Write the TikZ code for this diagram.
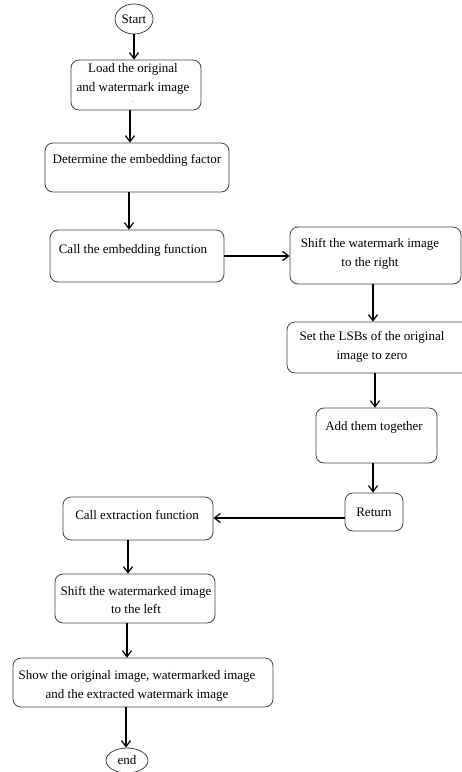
\documentclass[tikz,border=0pt]{standalone}
\usepackage{fontspec}
\setmainfont{Liberation Serif}
\usetikzlibrary{arrows.meta,shapes.geometric}
\begin{document}
\begin{tikzpicture}[x=1pt,y=-1pt,
  box/.style={draw=black!75, line width=0.8pt, rounded corners=8pt, inner sep=0pt},
  term/.style={draw=black!75, line width=0.8pt, ellipse, inner sep=0pt, font=\fontsize{13}{18.5}\selectfont},
  txt/.style={font=\fontsize{13}{18.5}\selectfont, align=center, inner sep=0pt},
  arr/.style={line width=1.6pt, -{Straight Barb[length=6pt,width=9pt,line width=1.2pt]}},
]
\useasboundingbox (0,0) rectangle (462,772);
% terminals
\node[term, minimum width=38pt, minimum height=30pt] (start) at (134,19) {Start};
\node[term, minimum width=42pt, minimum height=25pt] (end) at (127,760.5) {end};
% boxes
\node[box, minimum width=130pt, minimum height=50pt] (b1) at (136,85) {};
\node[txt] (t1) at (133,79) {Load the original\\and watermark image};
\node[txt, font=\fontsize{6}{6}\selectfont] (dot1) at (133,102) {.};
\node[box, minimum width=184pt, minimum height=49pt] (b2) at (137,167.5) {};
\node[txt] (t2) at (137,160) {Determine the embedding factor};
\node[box, minimum width=174pt, minimum height=52pt] (b3) at (137,256) {};
\node[txt] (t3) at (133,250) {Call the embedding function};
\node[box, minimum width=171pt, minimum height=57pt] (b4) at (375.5,255.5) {};
\node[txt] (t4) at (370,254) {Shift the watermark image\\to the right};
\node[box, minimum width=183pt, minimum height=51pt] (b5) at (378.5,347.5) {};
\node[txt] (t5) at (372,347) {Set the LSBs of the original\\image to zero};
\node[box, minimum width=121pt, minimum height=55pt] (b6) at (376.5,435.5) {};
\node[txt] (t6) at (374,427) {Add them together};
\node[box, minimum width=58pt, minimum height=38pt] (b7) at (374,512) {};
\node[txt] (t7) at (374,512) {Return};
\node[box, minimum width=150pt, minimum height=43pt] (b8) at (138,518.5) {};
\node[txt] (t8) at (137,515) {Call extraction function};
\node[box, minimum width=160pt, minimum height=49pt] (b9) at (135,598.5) {};
\node[txt] (t9) at (136,600) {Shift the watermarked image\\to the left};
\node[box, minimum width=260pt, minimum height=49pt] (b10) at (143,682.5) {};
\node[txt] (t10) at (137,686) {Show the original image, watermarked image\\and the extracted watermark image};
% connectors
\draw[arr] (start.south) -- (start.south |- b1.north);
\draw[arr] ([xshift=-6pt]b1.south) -- ([xshift=-6pt]b1.south |- b2.north);
\draw[arr] ([xshift=-8pt]b2.south) -- ([xshift=-8pt]b2.south |- b3.north);
\draw[arr] (b3.east) -- (b3.east -| b4.west);
\draw[arr] ([xshift=-2.5pt]b4.south) -- ([xshift=-2.5pt]b4.south |- b5.north);
\draw[arr] ([xshift=-3.5pt]b5.south) -- ([xshift=-3.5pt]b5.south |- b6.north);
\draw[arr] ([xshift=-3.5pt]b6.south) -- ([xshift=-3.5pt]b6.south |- b7.north);
\draw[arr] ([yshift=-6pt]b7.west) -- ([yshift=-6pt]b7.west -| b8.east);
\draw[arr] ([xshift=-10pt]b8.south) -- ([xshift=-10pt]b8.south |- b9.north);
\draw[arr] ([xshift=-8pt]b9.south) -- ([xshift=-8pt]b9.south |- b10.north);
\draw[arr] ([xshift=-17pt]b10.south) -- ([xshift=-17pt]b10.south |- end.north);
\end{tikzpicture}
\end{document}
